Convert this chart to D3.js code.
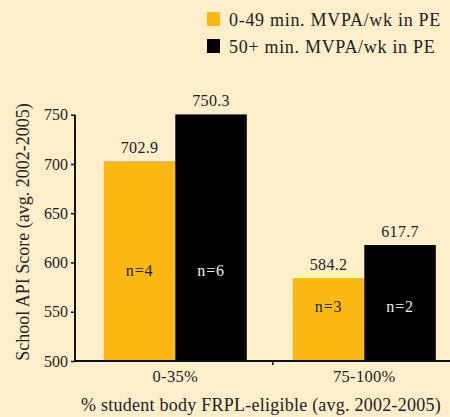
<!DOCTYPE html>
<html><head><meta charset="utf-8">
<script src="https://cdn.jsdelivr.net/npm/d3@7"></script>
<style>
html,body{margin:0;padding:0;background:#FEEECA;}
svg{display:block;font-family:"Liberation Serif","Times New Roman",serif;}
</style></head>
<body><div id="chart"></div>
<script>
const categories = ["0-35%", "75-100%"];
const seriesNames = ["0-49 min. MVPA/wk in PE", "50+ min. MVPA/wk in PE"];
const lowMVPA = [702.9, 584.2];
const highMVPA = [750.3, 617.7];
const lowN = ["n=4", "n=3"];
const highN = ["n=6", "n=2"];
const yTicks = [500, 550, 600, 650, 700, 750];
const colors = ["#FDB913", "#000000"];

const W = 450, H = 417;
const svg = d3.select("#chart").append("svg").attr("width", W).attr("height", H);
svg.append("rect").attr("width", W).attr("height", H).attr("fill", "#FEEECA");

const y = d3.scaleLinear().domain([500, 750]).range([361, 114.7]);
const x0 = d3.scaleBand().domain(categories).range([80.8, 458.8]).padding(0);
const x1 = d3.scaleBand().domain([0, 1]).range([0, 143]);
const off = (x0.bandwidth() - 143) / 2;

const series = [lowMVPA, highMVPA];
const nLabels = [lowN, highN];
const nLabelY = [270, 306];

categories.forEach((c, gi) => {
  series.forEach((s, si) => {
    const bx = x0(c) + off + x1(si);
    svg.append("rect")
      .attr("x", bx).attr("y", y(s[gi]))
      .attr("width", x1.bandwidth()).attr("height", y(500) - y(s[gi]))
      .attr("fill", colors[si]);
    svg.append("text")
      .attr("x", bx + x1.bandwidth() / 2).attr("y", y(s[gi]) - 8)
      .attr("text-anchor", "middle").attr("font-size", 16).attr("fill", "#222")
      .attr("letter-spacing", 0.3)
      .text(s[gi].toFixed(1));
    svg.append("text")
      .attr("x", bx + x1.bandwidth() / 2).attr("y", nLabelY[gi]).attr("dy", "0.35em")
      .attr("text-anchor", "middle").attr("font-size", 16).attr("letter-spacing", 0.8)
      .attr("fill", si === 0 ? "#222" : "#eee")
      .text(nLabels[si][gi]);
  });
});

// y axis
const yAxis = svg.append("g").attr("transform", "translate(75,0)")
  .call(d3.axisLeft(y).tickValues(yTicks).tickSize(4).tickPadding(3));
yAxis.select(".domain").attr("stroke", "#111").attr("stroke-width", 2).attr("d", "M0," + y(750) + "V" + y(500));
yAxis.selectAll(".tick line").attr("stroke", "#111").attr("stroke-width", 1.5);
yAxis.selectAll(".tick text").attr("font-size", 16).attr("fill", "#222")
  .attr("font-family", "Liberation Serif, serif");

// x axis line
svg.append("line").attr("x1", 74).attr("x2", W).attr("y1", 361).attr("y2", 361)
  .attr("stroke", "#111").attr("stroke-width", 2);
svg.append("line").attr("x1", x0(categories[1]) + 3).attr("x2", x0(categories[1]) + 3)
  .attr("y1", 361).attr("y2", 365).attr("stroke", "#111").attr("stroke-width", 1.5);
categories.forEach(c => {
  svg.append("text").attr("x", x0(c) + x0.bandwidth() / 2).attr("y", 382)
    .attr("text-anchor", "middle").attr("font-size", 16.5).attr("letter-spacing", 0.3)
    .attr("fill", "#222").text(c);
});

// axis titles
svg.append("text").attr("x", 261).attr("y", 411).attr("text-anchor", "middle")
  .attr("font-size", 18).attr("letter-spacing", 0.25).attr("fill", "#222")
  .text("% student body FRPL-eligible (avg. 2002-2005)");
svg.append("text").attr("transform", "translate(29,232) rotate(-90)")
  .attr("text-anchor", "middle").attr("font-size", 18).attr("fill", "#222")
  .text("School API Score (avg. 2002-2005)");

// legend
seriesNames.forEach((n, i) => {
  const ly = 12 + i * 27;
  svg.append("rect").attr("x", 207).attr("y", ly).attr("width", 13).attr("height", 14)
    .attr("fill", colors[i]);
  svg.append("text").attr("x", 229).attr("y", ly + 14).attr("font-size", 18)
    .attr("letter-spacing", 0.7).attr("fill", "#222").text(n);
});
</script></body></html>
